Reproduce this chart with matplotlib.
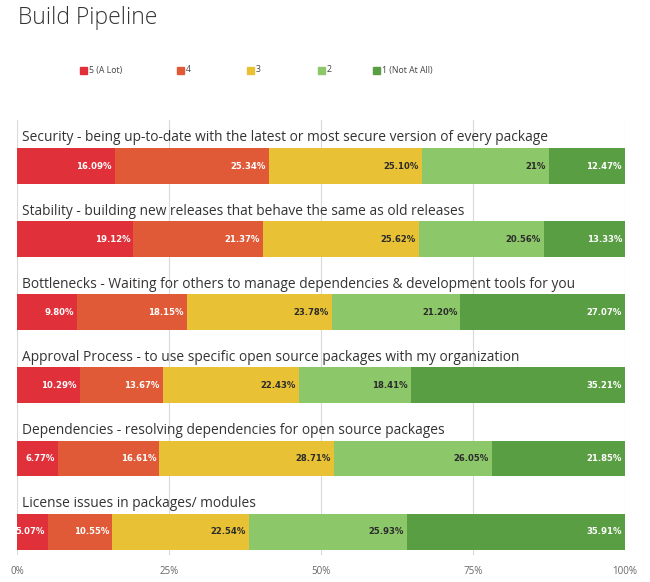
import matplotlib
matplotlib.use("Agg")
import matplotlib.pyplot as plt
from matplotlib.patches import Rectangle

categories = [
    "Security - being up-to-date with the latest or most secure version of every package",
    "Stability - building new releases that behave the same as old releases",
    "Bottlenecks - Waiting for others to manage dependencies & development tools for you",
    "Approval Process - to use specific open source packages with my organization",
    "Dependencies - resolving dependencies for open source packages",
    "License issues in packages/ modules",
]
series_names = ["5 (A Lot)", "4", "3", "2", "1 (Not At All)"]
s5 = [16.09, 19.12, 9.80, 10.29, 6.77, 5.07]
s4 = [25.34, 21.37, 18.15, 13.67, 16.61, 10.55]
s3 = [25.10, 25.62, 23.78, 22.43, 28.71, 22.54]
s2 = [21.00, 20.56, 21.20, 18.41, 26.05, 25.93]
s1 = [12.47, 13.33, 27.07, 35.21, 21.85, 35.91]
value_labels = [
    ["16.09%", "19.12%", "9.80%", "10.29%", "6.77%", "5.07%"],
    ["25.34%", "21.37%", "18.15%", "13.67%", "16.61%", "10.55%"],
    ["25.10%", "25.62%", "23.78%", "22.43%", "28.71%", "22.54%"],
    ["21%", "20.56%", "21.20%", "18.41%", "26.05%", "25.93%"],
    ["12.47%", "13.33%", "27.07%", "35.21%", "21.85%", "35.91%"],
]
xticks = [0, 25, 50, 75, 100]
xtick_labels = ["0%", "25%", "50%", "75%", "100%"]

series = [s5, s4, s3, s2, s1]
colors = ["#E0303A", "#E05A38", "#E8C234", "#8CC76A", "#5A9E43"]
text_colors = ["white", "white", "#2b2b2b", "#2b2b2b", "white"]

fig = plt.figure(figsize=(6.5, 5.82), dpi=100)
W, H = 650, 582
ax = fig.add_axes([17 / W, 1 - 555 / H, (625 - 17) / W, (555 - 120) / H])

ypos = list(range(len(categories)))
bar_h = 0.49
left = [0.0] * len(categories)
for k, vals in enumerate(series):
    ax.barh(ypos, vals, left=left, height=bar_h, color=colors[k], edgecolor="none", zorder=2)
    for i, v in enumerate(vals):
        end = left[i] + v
        ax.text(end - 0.5, ypos[i], value_labels[k][i], ha="right", va="center",
                fontsize=6.1, fontweight="bold", color=text_colors[k], zorder=3)
    left = [l + v for l, v in zip(left, vals)]

for i, c in enumerate(categories):
    ax.text(0.8, ypos[i] - 0.385, c, ha="left", va="center", fontsize=9.9,
            color="#333333", family="Open Sans", zorder=3)

ax.set_xlim(0, 100)
ax.set_ylim(5.32, -0.63)
ax.set_xticks(xticks)
ax.set_xticklabels(xtick_labels, fontsize=7, color="#666666", family="Open Sans")
ax.tick_params(axis="x", length=0, pad=8)
ax.set_yticks([])
for s in ax.spines.values():
    s.set_visible(False)
ax.grid(axis="x", color="#d9d9d9", linewidth=0.8, zorder=0)
ax.set_axisbelow(True)

fig.text(18 / W, 1 - 18 / H, "Build Pipeline", fontsize=16.5, color="#333333",
         family="Open Sans", fontweight="light", ha="left", va="center")

leg_x = [80, 177, 247, 318, 373]
leg_y = 70
for k, name in enumerate(series_names):
    fig.add_artist(Rectangle((leg_x[k] / W, 1 - (leg_y + 3.5) / H), 7 / W, 7 / H,
                             transform=fig.transFigure, color=colors[k]))
    fig.text((leg_x[k] + 9) / W, 1 - leg_y / H, name, fontsize=6.3, color="#444444",
             family="Open Sans", ha="left", va="center")

fig.savefig("out.png", dpi=100)
